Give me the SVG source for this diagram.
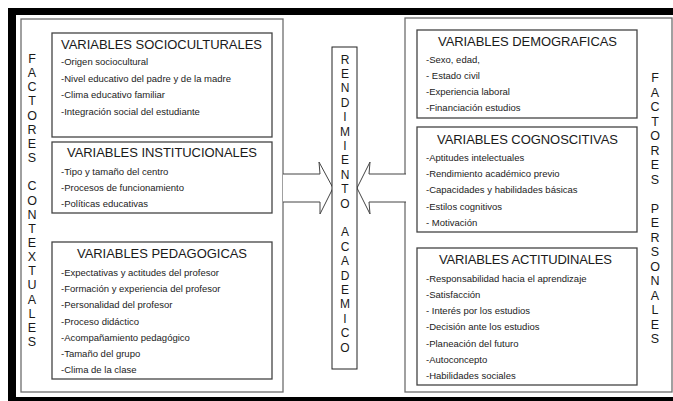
<svg xmlns="http://www.w3.org/2000/svg" width="673" height="401" viewBox="0 0 673 401">
<style>
.panel{fill:#fff;stroke:#6e6e6e;stroke-width:1.3}
.box{fill:#fff;stroke:#444;stroke-width:1.3}
.title{font-family:"Liberation Sans",Arial,sans-serif;font-size:13px;fill:#1a1a1a}
.item{font-family:"Liberation Sans",Arial,sans-serif;font-size:9.5px;fill:#222}
.vert{font-family:"Liberation Sans",Arial,sans-serif;font-size:12.5px;fill:#1a1a1a;text-anchor:middle}
.arrow{fill:#fff;stroke:#444;stroke-width:1}
</style>
<rect x="0" y="0" width="673" height="401" fill="#fff"/>
<rect x="8" y="8" width="672" height="400" fill="#000"/>
<rect x="16" y="15" width="664" height="382" fill="#fff"/>

<g id="panel-contextuales">
<rect class="panel" x="21" y="19" width="262" height="373"/>
<text class="vert" x="32"><tspan x="32" y="63">F</tspan><tspan x="32" dy="14.15">A</tspan><tspan x="32" dy="14.15">C</tspan><tspan x="32" dy="14.15">T</tspan><tspan x="32" dy="14.15">O</tspan><tspan x="32" dy="14.15">R</tspan><tspan x="32" dy="14.15">E</tspan><tspan x="32" dy="14.15">S</tspan><tspan x="32" dy="28.3">C</tspan><tspan x="32" dy="14.15">O</tspan><tspan x="32" dy="14.15">N</tspan><tspan x="32" dy="14.15">T</tspan><tspan x="32" dy="14.15">E</tspan><tspan x="32" dy="14.15">X</tspan><tspan x="32" dy="14.15">T</tspan><tspan x="32" dy="14.15">U</tspan><tspan x="32" dy="14.15">A</tspan><tspan x="32" dy="14.15">L</tspan><tspan x="32" dy="14.15">E</tspan><tspan x="32" dy="14.15">S</tspan></text>
</g>

<g id="panel-personales">
<rect class="panel" x="405" y="18" width="267" height="374"/>
<text class="vert" x="655"><tspan x="655" y="82">F</tspan><tspan x="655" dy="14.5">A</tspan><tspan x="655" dy="14.5">C</tspan><tspan x="655" dy="14.5">T</tspan><tspan x="655" dy="14.5">O</tspan><tspan x="655" dy="14.5">R</tspan><tspan x="655" dy="14.5">E</tspan><tspan x="655" dy="14.5">S</tspan><tspan x="655" dy="29">P</tspan><tspan x="655" dy="14.5">E</tspan><tspan x="655" dy="14.5">R</tspan><tspan x="655" dy="14.5">S</tspan><tspan x="655" dy="14.5">O</tspan><tspan x="655" dy="14.5">N</tspan><tspan x="655" dy="14.5">A</tspan><tspan x="655" dy="14.5">L</tspan><tspan x="655" dy="14.5">E</tspan><tspan x="655" dy="14.5">S</tspan></text>
</g>

<g id="connectors">
<path class="arrow" d="M283,174 L320,174 L319,162 L333,188 L320,214 L320,202 L283,202"/>
<path class="arrow" d="M406,174 L369,174 L370,162 L357,188 L370,214 L369,202 L406,202"/>
</g>

<g id="rendimiento">
<rect x="332" y="47" width="25" height="322" fill="#fff" stroke="#222" stroke-width="1"/>
<text class="vert" style="font-size:12px" x="345"><tspan x="345" y="63.6">R</tspan><tspan x="345" dy="14.4">E</tspan><tspan x="345" dy="14.4">N</tspan><tspan x="345" dy="14.4">D</tspan><tspan x="345" dy="14.4">I</tspan><tspan x="345" dy="14.4">M</tspan><tspan x="345" dy="14.4">I</tspan><tspan x="345" dy="14.4">E</tspan><tspan x="345" dy="14.4">N</tspan><tspan x="345" dy="14.4">T</tspan><tspan x="345" dy="14.4">O</tspan><tspan x="345" dy="28.8">A</tspan><tspan x="345" dy="14.4">C</tspan><tspan x="345" dy="14.4">A</tspan><tspan x="345" dy="14.4">D</tspan><tspan x="345" dy="14.4">E</tspan><tspan x="345" dy="14.4">M</tspan><tspan x="345" dy="14.4">I</tspan><tspan x="345" dy="14.4">C</tspan><tspan x="345" dy="14.4">O</tspan></text>
</g>

<g id="socioculturales">
<rect class="box" x="52" y="33" width="220" height="104"/>
<text class="title" x="61" y="49" textLength="201">VARIABLES SOCIOCULTURALES</text>
<text class="item" x="61" y="65">-Origen sociocultural</text>
<text class="item" x="61" y="81.5">-Nivel educativo del padre y de la madre</text>
<text class="item" x="61" y="98">-Clima educativo familiar</text>
<text class="item" x="61" y="114.5">-Integración social del estudiante</text>
</g>

<g id="institucionales">
<rect class="box" x="52" y="142" width="220" height="71"/>
<text class="title" x="67" y="157" textLength="190">VARIABLES INSTITUCIONALES</text>
<text class="item" x="61" y="175">-Tipo y tamaño del centro</text>
<text class="item" x="61" y="191">-Procesos de funcionamiento</text>
<text class="item" x="61" y="207">-Políticas educativas</text>
</g>

<g id="pedagogicas">
<rect class="box" x="52" y="242" width="220" height="137"/>
<text class="title" x="77" y="258" textLength="170">VARIABLES PEDAGOGICAS</text>
<text class="item" x="61" y="276">-Expectativas y actitudes del profesor</text>
<text class="item" x="61" y="292">-Formación y experiencia del profesor</text>
<text class="item" x="61" y="308">-Personalidad del profesor</text>
<text class="item" x="61" y="324.5">-Proceso didáctico</text>
<text class="item" x="61" y="341">-Acompañamiento pedagógico</text>
<text class="item" x="61" y="357">-Tamaño del grupo</text>
<text class="item" x="61" y="373">-Clima de la clase</text>
</g>

<g id="demograficas">
<rect class="box" x="417" y="30" width="220" height="88"/>
<text class="title" x="438" y="46" textLength="179">VARIABLES DEMOGRAFICAS</text>
<text class="item" x="426" y="63">-Sexo, edad,</text>
<text class="item" x="426" y="78.5">- Estado civil</text>
<text class="item" x="426" y="94.5">-Experiencia laboral</text>
<text class="item" x="426" y="111">-Financiación estudios</text>
</g>

<g id="cognoscitivas">
<rect class="box" x="417" y="127" width="220" height="105"/>
<text class="title" x="437" y="144" textLength="181">VARIABLES COGNOSCITIVAS</text>
<text class="item" x="426" y="160.5">-Aptitudes intelectuales</text>
<text class="item" x="426" y="177">-Rendimiento académico previo</text>
<text class="item" x="426" y="193">-Capacidades y habilidades básicas</text>
<text class="item" x="426" y="209.5">-Estilos cognitivos</text>
<text class="item" x="426" y="226">- Motivación</text>
</g>

<g id="actitudinales">
<rect class="box" x="417" y="248" width="220" height="137"/>
<text class="title" x="439" y="264" textLength="173">VARIABLES ACTITUDINALES</text>
<text class="item" x="426" y="282">-Responsabilidad hacia el aprendizaje</text>
<text class="item" x="426" y="297.5">-Satisfacción</text>
<text class="item" x="426" y="314">- Interés por los estudios</text>
<text class="item" x="426" y="330">-Decisión ante los estudios</text>
<text class="item" x="426" y="347">-Planeación del futuro</text>
<text class="item" x="426" y="363">-Autoconcepto</text>
<text class="item" x="426" y="379">-Habilidades sociales</text>
</g>
</svg>
